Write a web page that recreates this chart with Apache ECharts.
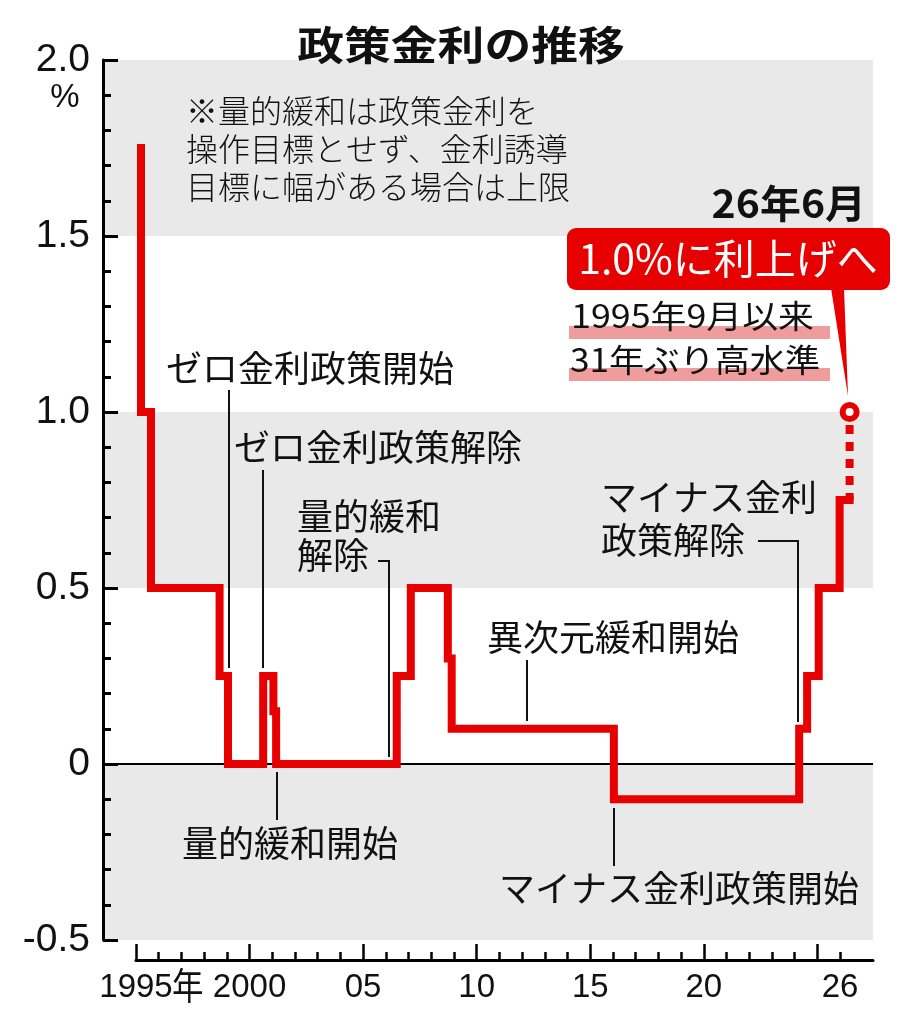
<!DOCTYPE html>
<html><head><meta charset="utf-8">
<script src="https://cdn.jsdelivr.net/npm/echarts@6/dist/echarts.min.js"></script>
<style>html,body{margin:0;padding:0;background:#fff}#c{width:913px;height:1024px}</style>
</head><body><div id="c"></div>
<script>
// ---- data ----
const changeDates = [1995.22, 1995.22, 1995.66, 1998.68, 1999.05, 2000.6, 2001.05, 2001.17, 2006.48, 2007.1, 2008.73, 2008.9, 2016.04, 2024.2, 2024.55, 2025.06, 2025.98, 2026.42];
const policyRates = [1.75, 1.0, 0.5, 0.25, 0, 0.25, 0.15, 0, 0.25, 0.5, 0.3, 0.1, -0.1, 0.1, 0.25, 0.5, 0.75, 0.75];
const forecastDates = [2026.42, 2026.42];
const forecastRates = [1.0, 0.75];
const yearTicks = [1995,1996,1997,1998,1999,2000,2001,2002,2003,2004,2005,2006,2007,2008,2009,2010,2011,2012,2013,2014,2015,2016,2017,2018,2019,2020,2021,2022,2023,2024,2025,2026];
const majorYearTicks = [1995,2000,2005,2010,2015,2020,2025];
const yearLabelValues = [1995,2000,2005,2010,2015,2020,2026];
const yearLabelTexts = ['1995','2000','05','10','15','20','26'];

// ---- layout ----
const RED = '#e60000';
const JP = '"Noto Sans CJK JP", sans-serif';
const plotLeft = 103, plotRight = 873, axisStartPx = 136;
const xMax = 2027.45;
const pxPerYear = (plotRight - axisStartPx) / (xMax - 1995);
const xMin0 = 1995 - (axisStartPx - plotLeft) / pxPerYear;

const chart = echarts.init(document.getElementById('c'), null, {renderer: 'canvas'});

const mainData = changeDates.map((d, i) => [d, policyRates[i]]);
const fcData = forecastDates.map((d, i) => {
  const item = {value: [d, forecastRates[i]]};
  if (i === 0) {
    item.symbol = 'circle'; item.symbolSize = 14;
    item.itemStyle = {color: '#fff', borderColor: RED, borderWidth: 6};
  } else { item.symbol = 'none'; }
  return item;
});

function txt(text, x, y, size, opts) {
  opts = opts || {};
  return {
    type: 'text', x: x, y: y, z: opts.z || 20,
    scaleX: opts.scaleX || 1, scaleY: opts.scaleY || 1,
    style: {
      text: text,
      font: (opts.weight || 'normal') + ' ' + size + 'px ' + (opts.family || JP),
      fill: opts.fill || '#111',
      align: opts.align || 'left',
      verticalAlign: 'middle'
    }
  };
}
function pl(points) {
  return {type: 'polyline', z: 15, shape: {points: points}, style: {stroke: '#111', lineWidth: 2, fill: null}};
}

const graphics = [
  txt('政策金利の推移', 461, 45, 40, {weight: 'bold', align: 'center', scaleX: 1.17}),
  txt('%', 65, 98, 33, {family: '"Liberation Sans", Arial, sans-serif', align: 'center'}),
  txt('年', 172, 986, 37, {scaleX: 0.85}),
  txt('※量的緩和は政策金利を', 186, 111, 32, {weight: '300'}),
  txt('操作目標とせず、金利誘導', 186, 149, 32, {weight: '300'}),
  txt('目標に幅がある場合は上限', 186, 187, 32, {weight: '300'}),
  txt('ゼロ金利政策開始', 166, 368, 36),
  txt('ゼロ金利政策解除', 234, 447, 36),
  txt('量的緩和', 297, 516, 36),
  txt('解除', 297, 555, 36),
  txt('マイナス金利', 601, 497, 36),
  txt('政策解除', 601, 540, 36),
  txt('異次元緩和開始', 487, 637, 36),
  txt('量的緩和開始', 182, 843, 36),
  txt('マイナス金利政策開始', 499, 888, 36),
  pl([[229, 390], [229, 668]]),
  pl([[263, 470], [263, 668]]),
  pl([[378, 561], [389, 561], [389, 757]]),
  pl([[527, 660], [527, 721]]),
  pl([[277, 772], [277, 820]]),
  pl([[614, 808], [614, 866]]),
  pl([[758, 541], [798, 541], [798, 722]]),
  txt('26年6月', 866, 203, 39, {weight: 'bold', align: 'right', scaleX: 1.05}),
  {type: 'rect', z: 18, shape: {x: 567, y: 228, width: 323, height: 62, r: 9}, style: {fill: RED}},
  {type: 'polygon', z: 18, shape: {points: [[831, 288], [844, 288], [848, 396]]}, style: {fill: RED}},
  txt('1.0%に利上げへ', 728, 258, 41, {fill: '#fff', align: 'center'}),
  {type: 'rect', z: 17, shape: {x: 569, y: 326, width: 261, height: 13}, style: {fill: '#ef9c9c'}},
  {type: 'rect', z: 17, shape: {x: 569, y: 368, width: 261, height: 13}, style: {fill: '#ef9c9c'}},
  txt('1995年9月以来', 571, 316, 32, {scaleX: 1.12}),
  txt('31年ぶり高水準', 570, 360, 32, {scaleX: 1.1})
];

const option = {
  animation: false,
  backgroundColor: '#fff',
  grid: [
    {left: plotLeft, right: 913 - plotRight, top: 60, bottom: 1024 - 940},
    {left: axisStartPx, right: 913 - plotRight, top: 950, height: 10}
  ],
  xAxis: [
    {gridIndex: 0, type: 'value', min: xMin0, max: xMax, show: false},
    {gridIndex: 1, type: 'value', min: 1995, max: xMax, position: 'bottom',
      axisLine: {show: true, onZero: false, lineStyle: {color: '#000', width: 3}},
      axisTick: {show: true, inside: true, length: 8, customValues: yearTicks, lineStyle: {color: '#000', width: 2.5}},
      axisLabel: {show: false}, splitLine: {show: false}},
    {gridIndex: 1, type: 'value', min: 1995, max: xMax, position: 'bottom',
      axisLine: {show: false, onZero: false},
      axisTick: {show: true, inside: true, length: 16, customValues: majorYearTicks, lineStyle: {color: '#000', width: 2.5}},
      axisLabel: {show: true, customValues: yearLabelValues, margin: 11,
        formatter: v => yearLabelTexts[yearLabelValues.indexOf(Math.round(v))] || '',
        fontFamily: '"Liberation Sans", Arial, sans-serif', fontSize: 33, color: '#111'},
      splitLine: {show: false}}
  ],
  yAxis: [
    {gridIndex: 0, type: 'value', min: -0.5, max: 2.0, interval: 0.5,
      axisLine: {show: true, lineStyle: {color: '#000', width: 3}},
      axisTick: {show: true, inside: true, length: 15, lineStyle: {color: '#000', width: 3}},
      minorTick: {show: true, splitNumber: 5, length: 8, lineStyle: {color: '#000', width: 3}},
      axisLabel: {margin: 13, fontFamily: '"Liberation Sans", Arial, sans-serif', fontSize: 39, color: '#111',
        formatter: v => (v === 0 ? '0' : v.toFixed(1))},
      splitLine: {show: false},
      splitArea: {show: true, areaStyle: {color: ['#e9e9e9', '#ffffff']}}},
    {gridIndex: 1, type: 'value', show: false}
  ],
  series: [
    {type: 'line', xAxisIndex: 0, yAxisIndex: 0, data: [], z: 1, silent: true,
      markLine: {z: 1, silent: true, symbol: 'none', label: {show: false},
        lineStyle: {color: '#000', width: 2, type: 'solid'}, data: [{yAxis: 0}]}},
    {type: 'line', xAxisIndex: 0, yAxisIndex: 0, step: 'end', data: mainData, z: 5,
      showSymbol: false, lineStyle: {color: RED, width: 8, cap: 'square', join: 'miter'}},
    {type: 'line', xAxisIndex: 0, yAxisIndex: 0, data: fcData, z: 6, showSymbol: true,
      lineStyle: {color: RED, width: 8, type: [9, 8], dashOffset: 4, cap: 'butt'}}
  ],
  graphic: graphics
};
chart.setOption(option);
</script></body></html>
